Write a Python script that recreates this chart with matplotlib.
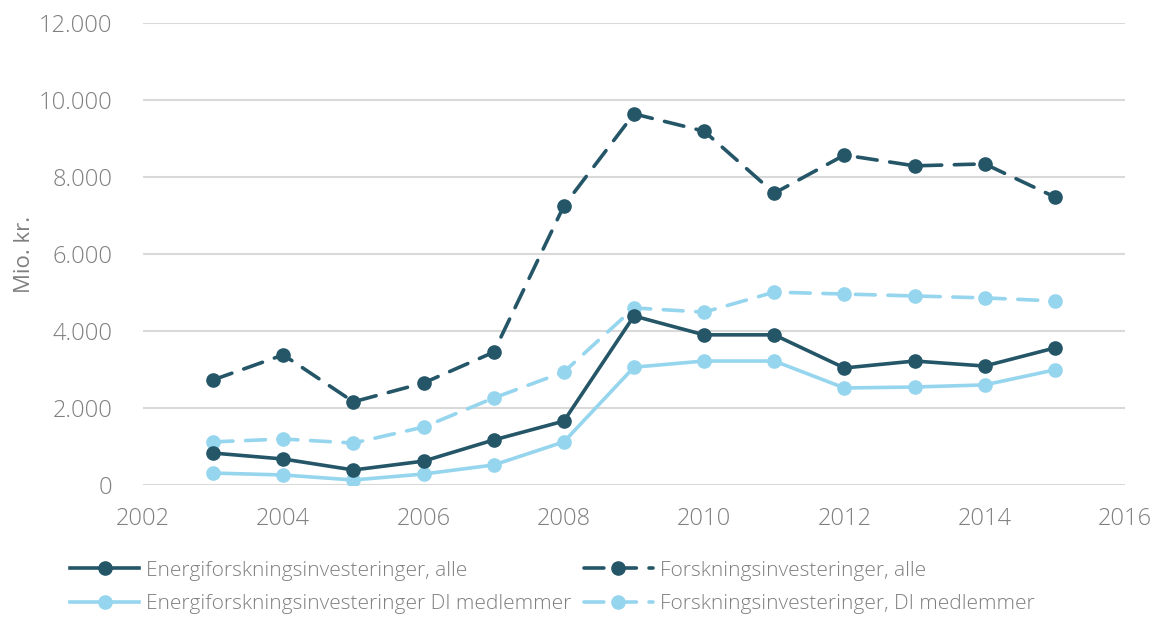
import numpy as np
import matplotlib
matplotlib.use("Agg")
import matplotlib.pyplot as plt
from matplotlib.ticker import FuncFormatter

years = [2003, 2004, 2005, 2006, 2007, 2008, 2009, 2010, 2011, 2012, 2013, 2014, 2015]
energi_alle = [830, 675, 390, 620, 1170, 1660, 4390, 3900, 3900, 3040, 3220, 3090, 3560]
forsk_alle = [2730, 3380, 2160, 2650, 3450, 7250, 9640, 9190, 7580, 8570, 8290, 8340, 7480]
energi_di = [310, 260, 130, 285, 520, 1120, 3060, 3220, 3220, 2520, 2545, 2600, 2990]
forsk_di = [1120, 1195, 1090, 1505, 2260, 2935, 4600, 4490, 5010, 4960, 4910, 4860, 4780]

labels = ["Energiforskningsinvesteringer, alle",
          "Energiforskningsinvesteringer DI medlemmer",
          "Forskningsinvesteringer, alle",
          "Forskningsinvesteringer, DI medlemmer"]

dark = "#245668"
light = "#96d5ee"
grey = "#7f7f7f"

plt.rcParams['font.family'] = ['Open Sans', 'DejaVu Sans']
plt.rcParams['font.weight'] = 'light'

fig = plt.figure(figsize=(11.53, 6.2), dpi=100)
ax = fig.add_axes([143/1153, 1 - 485/620, (1125 - 143)/1153, (485 - 23)/620])

dash = (5.5, 3.5)
ax.plot(years, energi_alle, color=dark, lw=2.6, marker='o', ms=9.5, label=labels[0], zorder=4)
ax.plot(years, energi_di, color=light, lw=2.6, marker='o', ms=9.5, label=labels[1], zorder=3)
ax.plot(years, forsk_alle, color=dark, lw=2.6, marker='o', ms=9.5, ls=(0, dash),
        dash_capstyle='round', label=labels[2], zorder=4)
ax.plot(years, forsk_di, color=light, lw=2.6, marker='o', ms=9.5, ls=(0, dash),
        dash_capstyle='round', label=labels[3], zorder=3)

ax.set_xlim(2002, 2016)
ax.set_ylim(0, 12000)
ax.set_xticks(range(2002, 2017, 2))
ax.set_yticks(range(0, 12001, 2000))
ax.yaxis.set_major_formatter(FuncFormatter(lambda v, p: f"{int(v):,}".replace(",", ".")))
ax.grid(axis='y', color='#d9d9d9', lw=1.5)
ax.set_axisbelow(True)
for s in ax.spines.values():
    s.set_visible(False)
ax.tick_params(length=0, labelsize=17, labelcolor=grey)
ax.tick_params(axis='y', pad=22)
ax.tick_params(axis='x', pad=16)
ax.set_ylabel("Mio. kr.", fontsize=16, color=grey)
ax.yaxis.set_label_coords(-0.11, 0.5)

ax.legend(ncol=2, loc='upper left', bbox_to_anchor=(-0.089, -0.132), frameon=False,
          fontsize=15, labelcolor=grey, handlelength=3.3, columnspacing=0.6,
          handletextpad=0.35, labelspacing=0.65, borderaxespad=0.3)

plt.savefig("out.png", dpi=100)
